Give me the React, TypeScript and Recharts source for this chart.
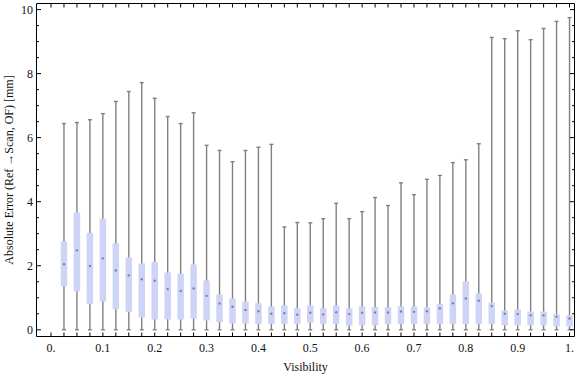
import React from 'react';
import { ComposedChart, XAxis, YAxis, Scatter, ErrorBar, ReferenceLine } from 'recharts';

const visibility = [0.025, 0.05, 0.075, 0.1, 0.125, 0.15, 0.175, 0.2, 0.225, 0.25, 0.275, 0.3, 0.325, 0.35, 0.375, 0.4, 0.425, 0.45, 0.475, 0.5, 0.525, 0.55, 0.575, 0.6, 0.625, 0.65, 0.675, 0.7, 0.725, 0.75, 0.775, 0.8, 0.825, 0.85, 0.875, 0.9, 0.925, 0.95, 0.975, 1.0];
const minVals = [0, 0, 0, 0, 0, 0, 0, 0, 0, 0, 0, 0, 0, 0, 0, 0, 0, 0, 0, 0, 0, 0, 0, 0, 0, 0, 0, 0, 0, 0, 0, 0, 0, 0, 0, 0, 0, 0, 0, 0];
const q1Vals = [1.36, 1.2, 0.8, 0.88, 0.64, 0.56, 0.39, 0.32, 0.32, 0.32, 0.35, 0.29, 0.24, 0.2, 0.2, 0.18, 0.18, 0.18, 0.18, 0.22, 0.18, 0.18, 0.13, 0.14, 0.14, 0.17, 0.18, 0.18, 0.18, 0.18, 0.18, 0.18, 0.18, 0.18, 0.14, 0.14, 0.14, 0.14, 0.1, 0.1];
const medianVals = [2.05, 2.48, 1.99, 2.23, 1.85, 1.7, 1.58, 1.53, 1.27, 1.21, 1.29, 1.06, 0.82, 0.72, 0.62, 0.58, 0.5, 0.52, 0.47, 0.53, 0.48, 0.55, 0.49, 0.53, 0.54, 0.54, 0.57, 0.56, 0.58, 0.67, 0.83, 0.98, 0.91, 0.74, 0.5, 0.49, 0.45, 0.45, 0.41, 0.35];
const q3Vals = [2.76, 3.66, 3.03, 3.47, 2.7, 2.26, 2.07, 2.12, 1.79, 1.75, 2.04, 1.54, 1.1, 0.98, 0.88, 0.83, 0.73, 0.76, 0.67, 0.76, 0.67, 0.76, 0.67, 0.73, 0.71, 0.7, 0.73, 0.73, 0.7, 0.8, 1.1, 1.51, 1.13, 0.85, 0.6, 0.63, 0.57, 0.57, 0.49, 0.45];
const maxVals = [6.44, 6.47, 6.56, 6.75, 7.13, 7.44, 7.72, 7.23, 6.66, 6.44, 6.78, 5.76, 5.6, 5.25, 5.6, 5.7, 5.79, 3.21, 3.35, 3.34, 3.47, 3.95, 3.47, 3.69, 4.13, 3.88, 4.59, 4.22, 4.7, 4.82, 5.22, 5.31, 5.81, 9.13, 9.09, 9.34, 9.06, 9.41, 9.63, 9.75];

const xTicks = [0, 0.025, 0.05, 0.075, 0.1, 0.125, 0.15, 0.175, 0.2, 0.225, 0.25, 0.275, 0.3, 0.325, 0.35, 0.375, 0.4, 0.425, 0.45, 0.475, 0.5, 0.525, 0.55, 0.575, 0.6, 0.625, 0.65, 0.675, 0.7, 0.725, 0.75, 0.775, 0.8, 0.825, 0.85, 0.875, 0.9, 0.925, 0.95, 0.975, 1.0];
const xLabelTicks = [0, 0.1, 0.2, 0.3, 0.4, 0.5, 0.6, 0.7, 0.8, 0.9, 1.0];
const xLabels = ['0.', '0.1', '0.2', '0.3', '0.4', '0.5', '0.6', '0.7', '0.8', '0.9', '1.'];
const yTicks = [0, 0.5, 1, 1.5, 2, 2.5, 3, 3.5, 4, 4.5, 5, 5.5, 6, 6.5, 7, 7.5, 8, 8.5, 9, 9.5, 10];
const yLabelTicks = [0, 2, 4, 6, 8, 10];
const yLabels = ['0', '2', '4', '6', '8', '10'];

const rows = visibility.map((v, i) => ({
  v,
  min: minVals[i],
  q1: q1Vals[i],
  med: medianVals[i],
  q3: q3Vals[i],
  max: maxVals[i],
}));

const CHART_W = 576;
const CHART_H = 377;
const MARGIN = { top: 3.5, right: 1.5, bottom: 0, left: 0 };
const Y_AXIS_W = 36.5;
const X_AXIS_H = 40.5;
const PLOT_TOP = MARGIN.top;
const PLOT_RIGHT = CHART_W - MARGIN.right;

const FONT = '"Liberation Serif", "Times New Roman", serif';
const TEXT = '#111';

const findIdx = (arr: number[], v: number) => arr.findIndex((a) => Math.abs(a - v) < 1e-6);

const BottomTick = (props: any) => {
  const { x, y, payload } = props;
  const idx = findIdx(xLabelTicks, payload.value);
  return (
    <g>
      <line x1={x} y1={y} x2={x} y2={y - 4} stroke="#000" strokeWidth={1} />
      <line x1={x} y1={PLOT_TOP} x2={x} y2={PLOT_TOP + 4} stroke="#000" strokeWidth={1} />
      {idx >= 0 && (
        <text x={x} y={y + 15} textAnchor="middle" fontFamily={FONT} fontSize={12} fill={TEXT}>
          {xLabels[idx]}
        </text>
      )}
    </g>
  );
};

const LeftTick = (props: any) => {
  const { x, y, payload } = props;
  const idx = findIdx(yLabelTicks, payload.value);
  const len = idx >= 0 ? 4.5 : 2.5;
  return (
    <g>
      <line x1={x} y1={y} x2={x + len} y2={y} stroke="#000" strokeWidth={1} />
      <line x1={PLOT_RIGHT} y1={y} x2={PLOT_RIGHT - len} y2={y} stroke="#000" strokeWidth={1} />
      {idx >= 0 && (
        <text x={x - 3.5} y={y + 4.3} textAnchor="end" fontFamily={FONT} fontSize={12} fill={TEXT}>
          {yLabels[idx]}
        </text>
      )}
    </g>
  );
};

const MedianDot = (props: any) => {
  const { cx, cy } = props;
  if (cx == null || cy == null) return <g />;
  return <circle cx={cx} cy={cy} r={1.2} fill="#7d82a0" />;
};

const NoDot = () => <g />;

const YTitle = (props: any) => {
  const vb = props.viewBox || {};
  const cy = (vb.y || 0) + (vb.height || 0) / 2;
  return (
    <text x={12.5} y={cy} transform={`rotate(-90, 12.5, ${cy})`} textAnchor="middle" fontFamily={FONT} fontSize={12} fill={TEXT}>
      Absolute Error (Ref →Scan, OF) [mm]
    </text>
  );
};

const XTitle = (props: any) => {
  const vb = props.viewBox || {};
  const cx = (vb.x || 0) + (vb.width || 0) / 2;
  const base = (vb.y || 0) + 34.5;
  return (
    <text x={cx} y={base} textAnchor="middle" fontFamily={FONT} fontSize={12} fill={TEXT}>
      Visibility
    </text>
  );
};

const X_DOMAIN: [number, number] = [-0.028, 1.0096];
const Y_DOMAIN: [number, number] = [-0.21, 10.19];

export default function App() {
  return (
    <div style={{ position: 'absolute', left: 0, top: 0, width: CHART_W, height: CHART_H, background: '#fff' }}>
      <ComposedChart width={CHART_W} height={CHART_H} data={rows} margin={MARGIN}>
        <XAxis
          dataKey="v"
          type="number"
          domain={X_DOMAIN}
          allowDataOverflow
          ticks={xTicks}
          interval={0}
          height={X_AXIS_H}
          tickSize={0}
          tickMargin={0}
          tickLine={false}
          axisLine={{ stroke: '#000', strokeWidth: 1 }}
          tick={BottomTick}
          label={{ content: XTitle }}
        />
        <YAxis
          dataKey="med"
          type="number"
          domain={Y_DOMAIN}
          allowDataOverflow
          ticks={yTicks}
          interval={0}
          width={Y_AXIS_W}
          tickSize={0}
          tickMargin={0}
          tickLine={false}
          axisLine={{ stroke: '#000', strokeWidth: 1 }}
          tick={LeftTick}
          label={{ content: YTitle }}
        />
        <ReferenceLine y={Y_DOMAIN[1]} stroke="#000" strokeWidth={1} ifOverflow="visible" />
        <ReferenceLine x={X_DOMAIN[1]} stroke="#000" strokeWidth={1} ifOverflow="visible" />
        <Scatter data={rows} dataKey="med" isAnimationActive={false} shape={NoDot}>
          <ErrorBar
            direction="y"
            dataKey={(d: any) => [d.med - d.min, d.max - d.med]}
            width={2}
            stroke="#808080"
            strokeWidth={1.4}
            isAnimationActive={false}
          />
        </Scatter>
        <Scatter data={rows} dataKey="med" isAnimationActive={false} shape={MedianDot}>
          <ErrorBar
            direction="y"
            dataKey={(d: any) => [d.med - d.q1, d.q3 - d.med]}
            width={0}
            stroke="#cdd4f6"
            strokeWidth={6.5}
            isAnimationActive={false}
          />
        </Scatter>
      </ComposedChart>
    </div>
  );
}
